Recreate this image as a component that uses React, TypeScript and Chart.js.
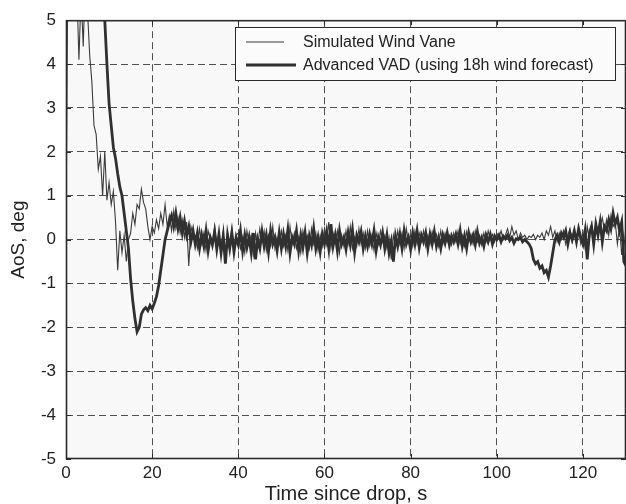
import { useEffect, useRef } from "react";
import { Chart, registerables } from "chart.js";

Chart.register(...registerables);

// ---- data ----
const SAMPLE_START_S = 0;
const SAMPLE_STEP_S = 0.5;

const X_MIN = 0;
const X_MAX = 130;
const X_STEP = 20;
const Y_MIN = -5;
const Y_MAX = 5;
const Y_STEP = 1;

const X_TITLE = "Time since drop, s";
const Y_TITLE = "AoS, deg";
const SERIES_LABELS = ["Simulated Wind Vane", "Advanced VAD (using 18h wind forecast)"];

// Simulated Wind Vane (thin), one value every 0.5 s from t = 0 to 130 s
const windVane: number[] = [
  0.0, 7.5, 6.8, 7.2, 6.5, 5.8, 4.1, 5.6, 4.4, 6.0, 5.2, 4.2, 3.6, 2.6, 2.4, 1.6, 1.9, 1.0, 2.0, 0.9,
  1.3, 0.8, 1.1, 0.4, -0.7, 0.2, -0.3, 0.1, -0.5, 0.0, 0.15, 0.6, 0.35, 0.8, 0.7, 1.15, 0.85, 0.7, 0.3, 0.0,
  0.3, 0.15, 0.45, 0.25, 0.6, 0.35, 0.8, 0.3, 0.55, 0.2, 0.65, 0.25, 0.5, 0.15, 0.45, 0.05, 0.4, -0.6, 0.3, 0.1,
  0.1, -0.2, 0.25, -0.1, 0.15, -0.25, 0.2, 0.0, -0.2, 0.3, -0.15, 0.05, -0.25, 0.2, -0.4, 0.15, -0.1, 0.25, -0.2, 0.1,
  0.15, -0.2, 0.05, -0.3, 0.2, -0.1, 0.1, -0.35, 0.15, -0.15, 0.25, -0.05, 0.2, -0.25, 0.1, -0.15, 0.3, -0.2, 0.05, -0.1,
  0.2, -0.15, 0.1, -0.25, 0.3, -0.1, 0.15, -0.2, 0.05, -0.3, 0.2, -0.05, 0.1, -0.2, 0.25, -0.1, 0.15, -0.25, 0.1, -0.15,
  0.25, -0.1, 0.4, -0.2, 0.15, -0.05, 0.2, -0.3, 0.1, -0.15, 0.2, -0.1, 0.3, -0.2, 0.05, -0.15, 0.25, -0.1, 0.15, -0.2,
  0.2, -0.15, 0.1, -0.25, 0.15, -0.1, 0.2, -0.05, 0.1, -0.2, 0.05, -0.45, 0.1, -0.15, 0.2, -0.1, 0.15, -0.2, 0.25, -0.05,
  0.1, -0.15, 0.2, -0.1, 0.15, -0.05, 0.2, -0.15, 0.1, -0.1, 0.18, -0.05, 0.12, -0.15, 0.2, -0.1, 0.15, -0.05, 0.1, -0.12,
  0.15, -0.05, 0.2, -0.1, 0.1, -0.15, 0.18, -0.05, 0.12, -0.1, 0.2, -0.05, 0.1, -0.12, 0.15, -0.05, 0.2, 0.0, 0.12, -0.05,
  0.15, 0.05, 0.2, 0.0, 0.1, 0.25, 0.05, 0.3, 0.1, 0.2, 0.0, 0.15, 0.05, 0.1, 0.0, 0.08, 0.05, 0.12, 0.0, 0.1,
  0.05, 0.15, 0.0, 0.2, 0.1, 0.3, 0.05, 0.2, -0.05, 0.15, 0.0, 0.2, -0.1, 0.1, 0.25, -0.05, 0.15, 0.0, 0.2, -0.1,
  0.15, -0.2, 0.3, 0.0, 0.35, -0.15, 0.4, 0.1, 0.3, 0.5, 0.2, 0.45, 0.1, 0.55, 0.3, 0.4, -0.1, 0.3, -0.35, 0.1,
  -0.4,
];

// Advanced VAD (thick), one value every 0.5 s from t = 0 to 130 s
const advancedVad: number[] = [
  14.0, 13.5, 13.0, 12.6, 12.2, 11.8, 11.3, 10.9, 10.4, 10.0, 9.5, 9.0, 8.4, 7.8, 7.2, 6.6, 6.0, 5.6, 5.0, 4.0,
  3.1, 2.6, 2.1, 1.85, 1.5, 1.2, 1.0, 0.6, 0.2, -0.2, -0.9, -1.4, -1.8, -2.1, -2.0, -1.7, -1.6, -1.55, -1.62, -1.5,
  -1.58, -1.45, -1.3, -1.05, -0.7, -0.35, 0.0, 0.2, 0.4, 0.55, 0.3, 0.6, 0.25, 0.5, 0.15, 0.42, 0.1, 0.3, -0.05, 0.2,
  -0.1, 0.15, -0.2, 0.1, -0.15, 0.2, -0.25, 0.05, -0.1, 0.18, -0.22, 0.12, -0.3, 0.08, -0.55, 0.1, -0.2, 0.15, -0.28, 0.05,
  -0.12, 0.2, -0.25, 0.1, -0.18, 0.05, -0.3, 0.15, -0.45, 0.0, -0.2, 0.18, -0.15, 0.1, -0.28, 0.2, -0.1, 0.05, -0.25, 0.15,
  -0.2, 0.12, -0.15, 0.22, -0.3, 0.05, -0.1, 0.2, -0.25, 0.1, -0.18, 0.15, -0.3, 0.08, -0.12, 0.25, -0.2, 0.05, -0.28, 0.12,
  -0.1, 0.18, -0.2, 0.35, -0.15, 0.1, -0.25, 0.2, -0.1, 0.05, -0.22, 0.15, -0.12, 0.22, -0.28, 0.1, -0.05, 0.18, -0.2, 0.08,
  -0.15, 0.12, -0.1, 0.2, -0.25, 0.05, -0.12, 0.15, -0.2, 0.1, -0.3, -0.05, -0.5, 0.08, -0.15, 0.12, -0.2, 0.2, -0.1, 0.05,
  -0.22, 0.15, -0.1, 0.2, -0.18, 0.1, -0.05, 0.15, -0.2, 0.12, -0.1, 0.18, -0.15, 0.05, -0.2, 0.1, -0.08, 0.15, -0.12, 0.08,
  -0.05, 0.12, -0.1, 0.2, -0.15, 0.08, -0.2, 0.15, -0.05, 0.1, -0.12, 0.18, -0.08, 0.05, -0.15, 0.1, -0.05, 0.12, -0.1, 0.08,
  0.0, 0.1, -0.05, 0.08, 0.02, 0.1, -0.02, 0.05, -0.08, 0.02, 0.0, 0.05, -0.05, 0.0, -0.05, -0.1, -0.2, -0.45, -0.55, -0.5,
  -0.65, -0.6, -0.75, -0.7, -0.85, -0.6, -0.3, 0.0, 0.1, -0.05, 0.15, 0.05, 0.2, -0.1, 0.15, 0.0, 0.2, -0.05, 0.25, 0.05,
  -0.1, 0.2, -0.45, 0.15, 0.3, -0.1, 0.35, 0.1, 0.4, -0.05, 0.3, 0.2, 0.45, 0.25, 0.6, 0.35, 0.5, 0.2, 0.4, -0.5,
  -0.6,
];

// ---- styling ----
const FONT = "'Liberation Sans', Arial, Helvetica, sans-serif";
const TEXT_COLOR = "#222";
const GRID_COLOR = "#505050";
const FRAME_COLOR = "#2a2a2a";
const PLOT_BG = "#f8f8f8";
const THIN_COLOR = "#3a3a3a";
const THICK_COLOR = "#303030";

const toPoints = (values: number[]) =>
  values.map((v, i) => ({ x: SAMPLE_START_S + i * SAMPLE_STEP_S, y: v }));

const framePlugin = {
  id: "matlabFrame",
  beforeDraw(chart: any) {
    const { ctx, chartArea: a } = chart;
    ctx.save();
    ctx.fillStyle = PLOT_BG;
    ctx.fillRect(a.left, a.top, a.right - a.left, a.bottom - a.top);
    ctx.restore();
  },
  afterDatasetsDraw(chart: any) {
    const { ctx, chartArea: a, scales } = chart;
    ctx.save();
    ctx.strokeStyle = FRAME_COLOR;
    ctx.lineWidth = 1;
    ctx.setLineDash([]);
    const tl = 5;
    ctx.beginPath();
    for (const t of scales.x.ticks) {
      const px = Math.round(scales.x.getPixelForValue(t.value)) + 0.5;
      ctx.moveTo(px, a.bottom);
      ctx.lineTo(px, a.bottom - tl);
      ctx.moveTo(px, a.top);
      ctx.lineTo(px, a.top + tl);
    }
    for (const t of scales.y.ticks) {
      const py = Math.round(scales.y.getPixelForValue(t.value)) + 0.5;
      ctx.moveTo(a.left, py);
      ctx.lineTo(a.left + tl, py);
      ctx.moveTo(a.right, py);
      ctx.lineTo(a.right - tl, py);
    }
    ctx.stroke();
    ctx.lineWidth = 1.6;
    ctx.strokeRect(a.left + 0.5, a.top + 0.5, a.right - a.left - 1, a.bottom - a.top - 1);
    ctx.restore();
  },
  afterDraw(chart: any) {
    const { ctx } = chart;
    const ds = chart.data.datasets;
    const box = { x: 235.5, y: 27.5, w: 380, h: 53 };
    ctx.save();
    ctx.fillStyle = "#fbfbfb";
    ctx.fillRect(box.x, box.y, box.w, box.h);
    ctx.strokeStyle = FRAME_COLOR;
    ctx.lineWidth = 1;
    ctx.strokeRect(box.x, box.y, box.w, box.h);
    const rows = [
      { y: 42, x1: 246, x2: 284 },
      { y: 65, x1: 246, x2: 296 },
    ];
    ds.forEach((d: any, i: number) => {
      const r = rows[i];
      ctx.strokeStyle = d.borderColor;
      ctx.lineWidth = d.borderWidth;
      ctx.beginPath();
      ctx.moveTo(r.x1, r.y);
      ctx.lineTo(r.x2, r.y);
      ctx.stroke();
      ctx.fillStyle = TEXT_COLOR;
      ctx.font = `16px ${FONT}`;
      ctx.textAlign = "left";
      ctx.textBaseline = "middle";
      ctx.fillText(d.label, 303, r.y + 1);
    });
    ctx.restore();
  },
};

export default function App() {
  const canvasRef = useRef<HTMLCanvasElement | null>(null);

  useEffect(() => {
    if (!canvasRef.current) return;
    const chart = new Chart(canvasRef.current, {
      type: "line",
      data: {
        datasets: [
          {
            label: SERIES_LABELS[0],
            data: toPoints(windVane),
            borderColor: THIN_COLOR,
            borderWidth: 1.1,
            pointRadius: 0,
            tension: 0,
            order: 2,
          },
          {
            label: SERIES_LABELS[1],
            data: toPoints(advancedVad),
            borderColor: THICK_COLOR,
            borderWidth: 2.8,
            pointRadius: 0,
            tension: 0,
            order: 1,
          },
        ],
      },
      options: {
        animation: false,
        responsive: false,
        maintainAspectRatio: false,
        events: [],
        layout: { padding: { top: 17, right: 0, left: 0, bottom: 0 } },
        plugins: {
          legend: { display: false },
          tooltip: { enabled: false },
        },
        scales: {
          x: {
            type: "linear",
            min: X_MIN,
            max: X_MAX,
            afterFit: (s: any) => {
              s.height = 45;
            },
            ticks: {
              stepSize: X_STEP,
              includeBounds: false,
              autoSkip: false,
              maxRotation: 0,
              padding: 4,
              color: TEXT_COLOR,
              font: { family: FONT, size: 17 },
            },
            grid: {
              drawTicks: false,
              lineWidth: 1,
              color: (c: any) =>
                c.tick && (c.tick.value === X_MIN || c.tick.value === X_MAX) ? "rgba(0,0,0,0)" : GRID_COLOR,
            },
            border: { display: false, dash: [7, 4] },
            title: {
              display: true,
              text: X_TITLE,
              color: TEXT_COLOR,
              font: { family: FONT, size: 20, lineHeight: 1 },
              padding: { top: 0, bottom: 0 },
            },
          },
          y: {
            type: "linear",
            min: Y_MIN,
            max: Y_MAX,
            afterFit: (s: any) => {
              s.width = 66;
            },
            ticks: {
              stepSize: Y_STEP,
              autoSkip: false,
              padding: 10,
              color: TEXT_COLOR,
              font: { family: FONT, size: 17 },
            },
            grid: {
              drawTicks: false,
              lineWidth: 1,
              color: (c: any) =>
                c.tick && (c.tick.value === Y_MIN || c.tick.value === Y_MAX) ? "rgba(0,0,0,0)" : GRID_COLOR,
            },
            border: { display: false, dash: [7, 4] },
            title: {
              display: true,
              text: Y_TITLE,
              color: TEXT_COLOR,
              font: { family: FONT, size: 19, lineHeight: 1 },
              padding: { top: 9, bottom: 0 },
            },
          },
        },
      },
      plugins: [framePlugin],
    });
    return () => chart.destroy();
  }, []);

  return (
    <div style={{ position: "absolute", left: 0, top: 0, width: 626, height: 504, background: "#fff" }}>
      <canvas ref={canvasRef} width={626} height={504} style={{ display: "block" }} />
    </div>
  );
}
